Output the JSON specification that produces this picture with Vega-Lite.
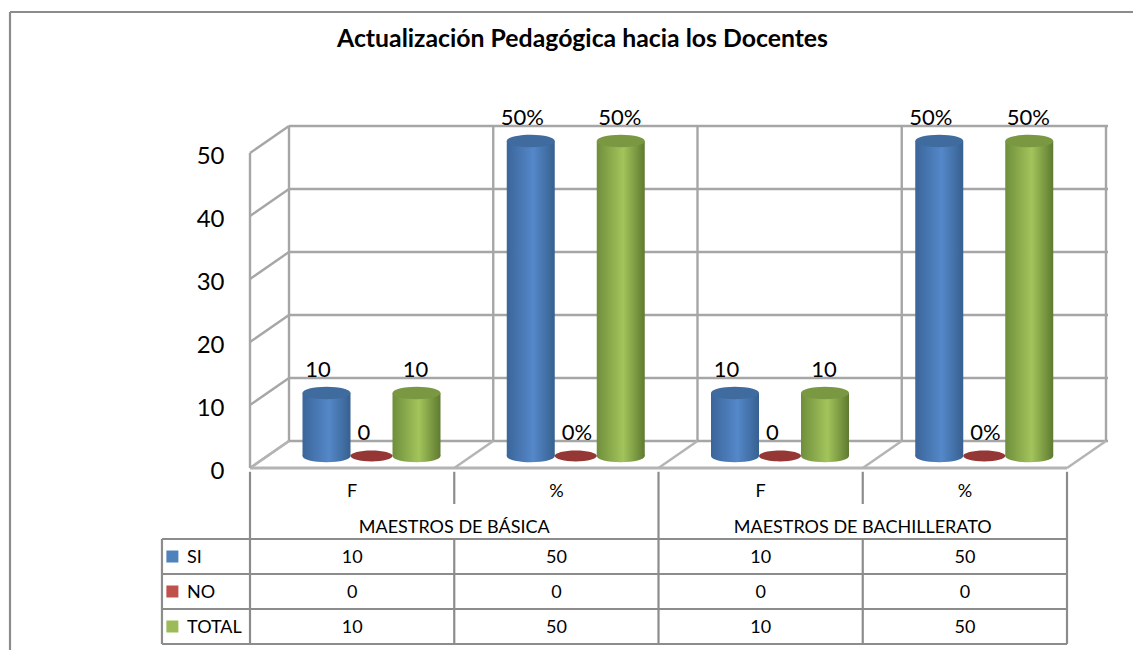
{
"$schema":"https://vega.github.io/schema/vega-lite/v6.json",
"width":1133,"height":650,"padding":0,"autosize":{"type":"none"},
"background":"white",
"config":{"view":{"stroke":null},"font":"Lato","text":{"font":"Lato"}},
"title":{"text":"Actualización Pedagógica hacia los Docentes","font":"Lato","fontSize":24.8,"fontWeight":"bold","color":"#000000","anchor":"middle","dx":16,"dy":72,"baseline":"alphabetic","offset":0},
"datasets":{
"serie":[
{"cat":"B-F","grupo":"MAESTROS DE BÁSICA","col":"F","serie":"SI","value":10,"label":"10"},
{"cat":"B-F","grupo":"MAESTROS DE BÁSICA","col":"F","serie":"NO","value":0,"label":"0"},
{"cat":"B-F","grupo":"MAESTROS DE BÁSICA","col":"F","serie":"TOTAL","value":10,"label":"10"},
{"cat":"B-P","grupo":"MAESTROS DE BÁSICA","col":"%","serie":"SI","value":50,"label":"50%"},
{"cat":"B-P","grupo":"MAESTROS DE BÁSICA","col":"%","serie":"NO","value":0,"label":"0%"},
{"cat":"B-P","grupo":"MAESTROS DE BÁSICA","col":"%","serie":"TOTAL","value":50,"label":"50%"},
{"cat":"H-F","grupo":"MAESTROS DE BACHILLERATO","col":"F","serie":"SI","value":10,"label":"10"},
{"cat":"H-F","grupo":"MAESTROS DE BACHILLERATO","col":"F","serie":"NO","value":0,"label":"0"},
{"cat":"H-F","grupo":"MAESTROS DE BACHILLERATO","col":"F","serie":"TOTAL","value":10,"label":"10"},
{"cat":"H-P","grupo":"MAESTROS DE BACHILLERATO","col":"%","serie":"SI","value":50,"label":"50%"},
{"cat":"H-P","grupo":"MAESTROS DE BACHILLERATO","col":"%","serie":"NO","value":0,"label":"0%"},
{"cat":"H-P","grupo":"MAESTROS DE BACHILLERATO","col":"%","serie":"TOTAL","value":50,"label":"50%"}
],
"cols":[{"cat":"B-F","col":"F","k":0},{"cat":"B-P","col":"%","k":1},{"cat":"H-F","col":"F","k":2},{"cat":"H-P","col":"%","k":3},{"cat":"end","col":"","k":4}],
"grupos":[{"grupo":"MAESTROS DE BÁSICA","row":"group"},{"grupo":"MAESTROS DE BACHILLERATO","row":"group"}],
"ticks":[{"v":0},{"v":10},{"v":20},{"v":30},{"v":40},{"v":50}],
"leyenda":[{"row":"SI"},{"row":"NO"},{"row":"TOTAL"}],
"tabla":[
{"x1":-0.431,"x2":4,"r1":2,"r2":2},{"x1":-0.431,"x2":4,"r1":3,"r2":3},{"x1":-0.431,"x2":4,"r1":4,"r2":4},{"x1":-0.431,"x2":4,"r1":5,"r2":5},
{"x1":-0.431,"x2":-0.431,"r1":2,"r2":5},{"x1":0,"x2":0,"r1":0.08,"r2":5},{"x1":1,"x2":1,"r1":0.08,"r2":1},{"x1":1,"x2":1,"r1":2,"r2":5},
{"x1":2,"x2":2,"r1":0.08,"r2":5},{"x1":3,"x2":3,"r1":0.08,"r2":1},{"x1":3,"x2":3,"r1":2,"r2":5},{"x1":4,"x2":4,"r1":0.08,"r2":5},
{"x1":-1.175,"x2":4.33,"r1":-13.057,"r2":-13.057},{"x1":-1.175,"x2":-1.175,"r1":-13.057,"r2":5.2}
]
},
"resolve":{"scale":{"x":"independent","y":"independent","xOffset":"independent","color":"independent"},"axis":{"x":"independent","y":"independent"}},
"layer":[
{"data":{"name":"ticks"},
 "mark":{"type":"rule","color":"#a6a6a6","strokeWidth":2.4,"xOffset":0,"x2Offset":39,"y2Offset":-27},
 "encoding":{
  "x":{"datum":0,"type":"quantitative","scale":{"domain":[0,4],"range":[250,1067],"zero":false,"nice":false},"axis":null},
  "x2":{"datum":0},
  "y":{"field":"v","type":"quantitative","scale":{"domain":[0,50],"range":[468,153],"nice":false},
   "axis":{"values":[0,10,20,30,40,50],"offset":-224,"domain":false,"ticks":false,"grid":false,"title":null,"labelPadding":0,"labelFontSize":24,"labelFont":"Lato","labelColor":"#000000","labelBaseline":"middle","labelOffset":3}},
  "y2":{"field":"v"}}},
{"data":{"name":"ticks"},
 "mark":{"type":"rule","color":"#a6a6a6","strokeWidth":2.4,"xOffset":39,"x2Offset":41,"yOffset":-27,"y2Offset":-27},
 "encoding":{
  "x":{"datum":0,"type":"quantitative","scale":{"domain":[0,4],"range":[250,1067],"zero":false,"nice":false},"axis":null},
  "x2":{"datum":4},
  "y":{"field":"v","type":"quantitative","scale":{"domain":[0,50],"range":[468,153],"nice":false},"axis":null}}},
{"data":{"name":"cols"},
 "layer":[
  {"mark":{"type":"rule","color":"#a6a6a6","strokeWidth":2.4,"xOffset":39,"x2Offset":39,"yOffset":-27,"y2Offset":-27},
   "encoding":{"y":{"datum":0,"type":"quantitative","scale":{"domain":[0,50],"range":[468,153],"nice":false},"axis":null},"y2":{"datum":50}}},
  {"mark":{"type":"rule","color":"#b4b4b4","strokeWidth":2.4,"xOffset":0,"x2Offset":39,"y2Offset":-27},
   "encoding":{"x2":{"field":"k"},"y":{"datum":0,"type":"quantitative","scale":{"domain":[0,50],"range":[468,153],"nice":false},"axis":null},"y2":{"datum":0}}}
 ],
 "encoding":{"x":{"field":"k","type":"quantitative","scale":{"domain":[0,4],"range":[250,1067],"zero":false,"nice":false},"axis":null}}},
{"data":{"name":"ticks"},
 "transform":[{"filter":"datum.v===0"}],
 "layer":[
  {"mark":{"type":"rule","color":"#b4b4b4","strokeWidth":3},
   "encoding":{"x":{"datum":0,"type":"quantitative","scale":{"domain":[0,4],"range":[250,1067],"zero":false,"nice":false},"axis":null},"x2":{"datum":4},"y":{"datum":0,"type":"quantitative","scale":{"domain":[0,50],"range":[468,153],"nice":false},"axis":null}}}
 ]},
{"data":{"name":"ticks"},
 "transform":[{"filter":"datum.v===0"}],
 "mark":{"type":"rule","color":"#a6a6a6","strokeWidth":2.4},
 "encoding":{"x":{"datum":0,"type":"quantitative","scale":{"domain":[0,4],"range":[250,1067],"zero":false,"nice":false},"axis":null},"x2":{"datum":0},"y":{"datum":0,"type":"quantitative","scale":{"domain":[0,50],"range":[468,153],"nice":false},"axis":null},"y2":{"datum":50}}},
{"data":{"name":"tabla"},
 "mark":{"type":"rule","color":"#8c8c8c","strokeWidth":2.2},
 "encoding":{
  "x":{"field":"x1","type":"quantitative","scale":{"domain":[0,4],"range":[250,1067],"zero":false,"nice":false},"axis":null},"x2":{"field":"x2"},
  "y":{"field":"r1","type":"quantitative","scale":{"domain":[0,5],"range":[469,644],"zero":false,"nice":false},"axis":null},"y2":{"field":"r2"}}},
{"data":{"name":"serie"},
 "encoding":{
  "x":{"field":"cat","type":"nominal","sort":null,"scale":{"domain":["B-F","B-P","H-F","H-P"],"range":[250,1067],"paddingInner":0,"paddingOuter":0},"axis":null},
  "xOffset":{"field":"serie","type":"nominal","scale":{"domain":["SI","NO","TOTAL"],"range":[54,189],"paddingInner":0,"paddingOuter":0}},
  "y":{"field":"value","type":"quantitative","scale":{"domain":[0,50],"range":[468,153],"nice":false},"axis":null}},
 "layer":[
  {"transform":[{"filter":"datum.serie==='SI'"}],"mark":{"type":"point","filled":true,"size":2304,"opacity":1,"yOffset":-12,"fill":{"gradient":"linear","x1":0,"x2":1,"y1":0,"y2":0,"stops":[{"offset":0,"color":"#3b659a"},{"offset":0.55,"color":"#5488c9"},{"offset":1,"color":"#37608f"}]},"shape":"M -1 0 A 1 0.26 0 1 1 1 0 A 1 0.26 0 1 1 -1 0 Z"},"encoding":{"y":{"datum":0,"type":"quantitative","scale":{"domain":[0,50],"range":[468,153],"nice":false},"axis":null}}},
  {"transform":[{"filter":"datum.serie==='TOTAL'"}],"mark":{"type":"point","filled":true,"size":2304,"opacity":1,"yOffset":-12,"fill":{"gradient":"linear","x1":0,"x2":1,"y1":0,"y2":0,"stops":[{"offset":0,"color":"#6f8e3c"},{"offset":0.55,"color":"#a3c45b"},{"offset":1,"color":"#5f7a30"}]},"shape":"M -1 0 A 1 0.26 0 1 1 1 0 A 1 0.26 0 1 1 -1 0 Z"},"encoding":{"y":{"datum":0,"type":"quantitative","scale":{"domain":[0,50],"range":[468,153],"nice":false},"axis":null}}},
  {"transform":[{"filter":"datum.serie==='SI'"}],"mark":{"type":"bar","width":48,"yOffset":-12,"y2Offset":-12,"color":{"gradient":"linear","x1":0,"x2":1,"y1":0,"y2":0,"stops":[{"offset":0,"color":"#3b659a"},{"offset":0.55,"color":"#5488c9"},{"offset":1,"color":"#37608f"}]}}},
  {"transform":[{"filter":"datum.serie==='TOTAL'"}],"mark":{"type":"bar","width":48,"yOffset":-12,"y2Offset":-12,"color":{"gradient":"linear","x1":0,"x2":1,"y1":0,"y2":0,"stops":[{"offset":0,"color":"#6f8e3c"},{"offset":0.55,"color":"#a3c45b"},{"offset":1,"color":"#5f7a30"}]}}},
  {"transform":[{"filter":"datum.serie==='SI'"}],"mark":{"type":"point","filled":true,"size":2304,"opacity":1,"yOffset":-12,"fill":"#3f6b9f","shape":"M -1 0 A 1 0.26 0 1 1 1 0 A 1 0.26 0 1 1 -1 0 Z"}},
  {"transform":[{"filter":"datum.serie==='TOTAL'"}],"mark":{"type":"point","filled":true,"size":2304,"opacity":1,"yOffset":-12,"fill":"#7a9842","shape":"M -1 0 A 1 0.26 0 1 1 1 0 A 1 0.26 0 1 1 -1 0 Z"}},
  {"transform":[{"filter":"datum.serie==='NO'"}],"mark":{"type":"point","filled":true,"size":1764,"opacity":1,"yOffset":-12,"fill":"#953735","shape":"M -1 0 A 1 0.26 0 1 1 1 0 A 1 0.26 0 1 1 -1 0 Z"}},
  {"transform":[{"filter":"datum.serie==='SI'"}],"mark":{"type":"text","fontSize":22,"align":"center","baseline":"middle","dx":-8.5,"dy":-35,"color":"#000000","font":"Lato"},"encoding":{"text":{"field":"label"}}},
  {"transform":[{"filter":"datum.serie==='NO'"}],"mark":{"type":"text","fontSize":22,"align":"left","baseline":"middle","dx":-14,"dy":-35,"color":"#000000","font":"Lato"},"encoding":{"text":{"field":"label"}}},
  {"transform":[{"filter":"datum.serie==='TOTAL'"}],"mark":{"type":"text","fontSize":22,"align":"center","baseline":"middle","dx":-1,"dy":-35,"color":"#000000","font":"Lato"},"encoding":{"text":{"field":"label"}}}
 ]},
{"data":{"name":"serie"},
 "mark":{"type":"text","fontSize":18,"font":"Lato","color":"#000000","baseline":"middle","dy":1},
 "encoding":{
  "x":{"field":"cat","type":"nominal","sort":null,"scale":{"domain":["B-F","B-P","H-F","H-P"],"range":[250,1067],"paddingInner":0,"paddingOuter":0},"axis":null},
  "y":{"field":"serie","type":"nominal","scale":{"domain":["col","group","SI","NO","TOTAL"],"range":[469,644],"paddingInner":0,"paddingOuter":0},"axis":null},
  "text":{"field":"value","type":"quantitative"}}},
{"data":{"name":"cols"},
 "transform":[{"filter":"datum.k<4"}],
 "mark":{"type":"text","fontSize":18,"font":"Lato","color":"#000000","baseline":"middle","dy":5},
 "encoding":{
  "x":{"field":"cat","type":"nominal","sort":null,"scale":{"domain":["B-F","B-P","H-F","H-P"],"range":[250,1067],"paddingInner":0,"paddingOuter":0},"axis":null},
  "y":{"datum":"col","type":"nominal","scale":{"domain":["col","group","SI","NO","TOTAL"],"range":[469,644],"paddingInner":0,"paddingOuter":0},"axis":null},
  "text":{"field":"col"}}},
{"data":{"name":"grupos"},
 "mark":{"type":"text","fontSize":18,"font":"Lato","color":"#000000","baseline":"middle","dy":6},
 "encoding":{
  "x":{"field":"grupo","type":"nominal","sort":null,"scale":{"domain":["MAESTROS DE BÁSICA","MAESTROS DE BACHILLERATO"],"range":[250,1067],"paddingInner":0,"paddingOuter":0},"axis":null},
  "y":{"field":"row","type":"nominal","scale":{"domain":["col","group","SI","NO","TOTAL"],"range":[469,644],"paddingInner":0,"paddingOuter":0},"axis":null},
  "text":{"field":"grupo"}}},
{"data":{"name":"leyenda"},
 "encoding":{"y":{"field":"row","type":"nominal","scale":{"domain":["col","group","SI","NO","TOTAL"],"range":[469,644],"paddingInner":0,"paddingOuter":0},"axis":null}},
 "layer":[
  {"mark":{"type":"point","shape":"square","filled":true,"opacity":1,"size":144},
   "encoding":{"x":{"datum":-0.38,"type":"quantitative","scale":{"domain":[0,4],"range":[250,1067],"zero":false,"nice":false},"axis":null},
    "color":{"field":"row","type":"nominal","legend":null,"scale":{"domain":["SI","NO","TOTAL"],"range":["#4f81bd","#c0504d","#9bbb59"]}}}},
  {"mark":{"type":"text","align":"left","baseline":"middle","fontSize":18,"dy":1,"font":"Lato","color":"#000000"},
   "encoding":{"x":{"datum":-0.308,"type":"quantitative","scale":{"domain":[0,4],"range":[250,1067],"zero":false,"nice":false},"axis":null},"text":{"field":"row"}}}
 ]}
]
}
